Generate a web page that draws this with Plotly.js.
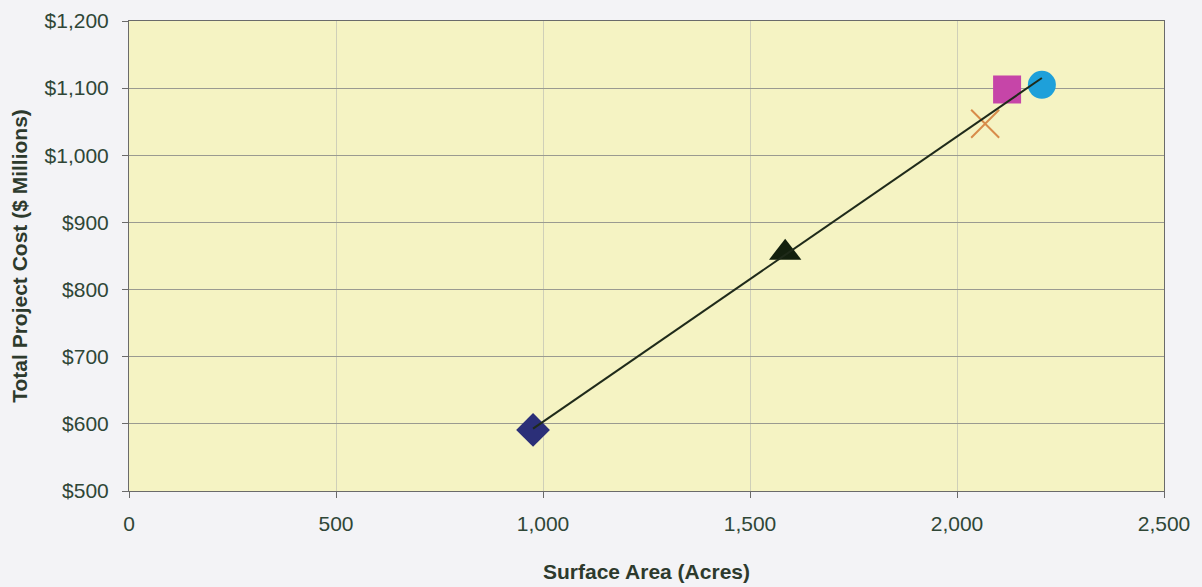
<!DOCTYPE html>
<html><head><meta charset="utf-8">
<script src="https://cdn.plot.ly/plotly-3.0.1.min.js"></script>
<style>html,body{margin:0;padding:0;background:#f3f3f6;}#chart{width:1202px;height:587px;}</style>
</head><body><div id="chart"></div>
<script>
const seriesNames = ["Diamond", "Triangle", "X", "Square", "Circle"];
const areaAcres = [976, 1585, 2068, 2121, 2205];
const costMillions = [591, 855, 1047, 1098, 1105];
const markerSymbols = ["diamond", "triangle-up", "x-thin-open", "square", "circle"];
const markerColors = ["#2b2f78", "#13200e", "#d88c4a", "#c645a8", "#1ea0da"];
const markerSizes = [26, 28, 28, 28, 28];

// linear trendline
const n = areaAcres.length;
const mx = areaAcres.reduce((a,b)=>a+b,0)/n, my = costMillions.reduce((a,b)=>a+b,0)/n;
let sxy=0, sxx=0;
for (let i=0;i<n;i++){ sxy+=(areaAcres[i]-mx)*(costMillions[i]-my); sxx+=(areaAcres[i]-mx)**2; }
const slope = sxy/sxx, icpt = my - slope*mx;
const xmin = Math.min(...areaAcres), xmax = Math.max(...areaAcres);

const traces = seriesNames.map((nm,i)=>({
  type:"scatter", mode:"markers", name:nm,
  x:[areaAcres[i]], y:[costMillions[i]],
  marker:{symbol:markerSymbols[i], color:markerColors[i], size:markerSizes[i],
    line:{color:markerColors[i], width: markerSymbols[i].startsWith("x") ? 2 : 0}},
  hoverinfo:"x+y"
}));
traces.push({type:"scatter", mode:"lines", name:"Trend",
  x:[xmin, xmax], y:[icpt+slope*xmin, icpt+slope*xmax],
  line:{color:"#1f2a1a", width:2}});

const fam = "Liberation Sans, Arial, sans-serif";
const tickFont = {family:fam, size:21, color:"#2f4636"};
const titleFont = {family:fam, size:21, color:"#2d3a2d", weight:"bold"};
Plotly.newPlot("chart", traces, {
  width:1202, height:587,
  paper_bgcolor:"#f3f3f6", plot_bgcolor:"#f5f3c3",
  showlegend:false,
  margin:{l:129, r:38, t:21, b:96},
  font:tickFont,
  xaxis:{range:[0,2500], dtick:500, tickformat:",d", showgrid:true, gridcolor:"#cfcfb8", gridwidth:1,
    zeroline:false, showline:true, linecolor:"#6a6a6a", linewidth:1, mirror:true,
    ticks:"outside", ticklen:6, tickcolor:"#6a6a6a", tickfont:tickFont, ticklabelstandoff:8,
    title:{text:"Surface Area (Acres)", font:titleFont, standoff:30}},
  yaxis:{range:[500,1200], dtick:100, tickprefix:"$", tickformat:",d", showgrid:true, gridcolor:"#9a9a90", gridwidth:1,
    zeroline:false, showline:true, linecolor:"#6a6a6a", linewidth:1, mirror:true,
    ticks:"outside", ticklen:6, tickcolor:"#6a6a6a", tickfont:tickFont, ticklabelstandoff:9,
    title:{text:"Total Project Cost ($ Millions)", font:titleFont, standoff:11}}
}, {displayModeBar:false});
</script></body></html>
